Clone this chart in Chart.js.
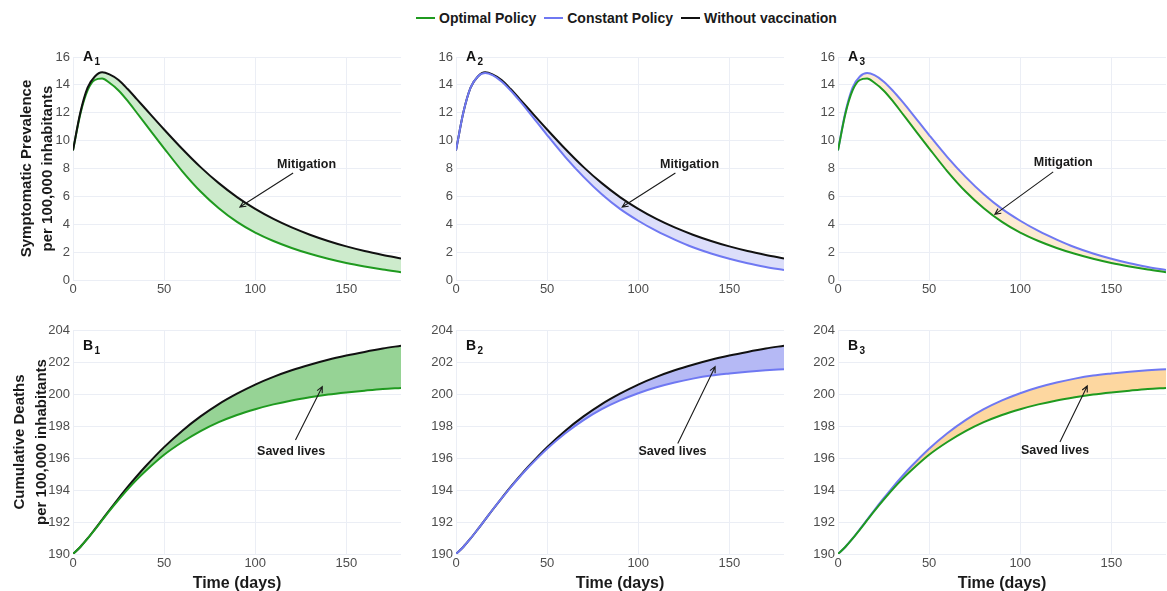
<!DOCTYPE html>
<html>
<head>
<meta charset="utf-8">
<script src="https://cdn.jsdelivr.net/npm/chart.js@4.4.1/dist/chart.umd.min.js"></script>
<style>
  html, body { margin: 0; padding: 0; background: #fff; overflow: hidden; width: 1167px; height: 591px; }
  canvas { position: absolute; }
  #legend { position: absolute; top: 8px; left: 416px; height: 20px; display: flex; align-items: center;
            font: bold 14px "Liberation Sans", Arial, sans-serif; color: #1a1a1a; white-space: nowrap; }
  #legend .sw { display: inline-block; width: 19px; height: 2px; margin-right: 4px; }
  #legend .item { display: flex; align-items: center; margin-right: 8px; }
</style>
</head>
<body>
<div id="legend">
  <span class="item"><span class="sw" style="background:#1f9a1f"></span>Optimal Policy</span>
  <span class="item"><span class="sw" style="background:#6f78f2"></span>Constant Policy</span>
  <span class="item"><span class="sw" style="background:#111"></span>Without vaccination</span>
</div>
<canvas id="a1" width="404" height="255" style="left:0;top:45px"></canvas>
<canvas id="a2" width="372" height="255" style="left:416px;top:45px"></canvas>
<canvas id="a3" width="369" height="255" style="left:798px;top:45px"></canvas>
<canvas id="b1" width="404" height="283" style="left:0;top:318px"></canvas>
<canvas id="b2" width="372" height="283" style="left:416px;top:318px"></canvas>
<canvas id="b3" width="369" height="283" style="left:798px;top:318px"></canvas>
<script>
// Simulation output sampled on these days
const days = [0, 4, 8, 12, 16, 20, 25, 30, 35, 40, 50, 60, 70, 80, 90, 100, 110, 120, 130, 140, 150, 160, 170, 180];

// Symptomatic prevalence per 100,000 inhabitants
const prevOptimal  = [9.3, 11.9, 13.6, 14.35, 14.45, 14.15, 13.6, 12.85, 12.0, 11.15, 9.45, 7.8, 6.35, 5.15, 4.17, 3.4, 2.8, 2.3, 1.88, 1.52, 1.22, 0.97, 0.75, 0.56];
const prevConstant = [9.3, 12.0, 13.8, 14.6, 14.85, 14.7, 14.25, 13.6, 12.85, 12.05, 10.4, 8.82, 7.4, 6.15, 5.1, 4.25, 3.52, 2.9, 2.35, 1.9, 1.52, 1.2, 0.94, 0.72];
const prevNoVax    = [9.3, 12.0, 13.8, 14.6, 14.9, 14.75, 14.35, 13.7, 12.98, 12.25, 10.8, 9.4, 8.1, 6.95, 5.95, 5.1, 4.38, 3.77, 3.25, 2.8, 2.41, 2.08, 1.8, 1.55];

// Cumulative deaths per 100,000 inhabitants
const deathsOptimal  = [190.0, 190.44, 190.96, 191.53, 192.11, 192.69, 193.38, 194.04, 194.65, 195.2, 196.2, 197.0, 197.68, 198.24, 198.69, 199.05, 199.35, 199.6, 199.8, 199.97, 200.1, 200.21, 200.31, 200.38];
const deathsConstant = [190.0, 190.44, 190.97, 191.55, 192.15, 192.75, 193.47, 194.17, 194.83, 195.45, 196.58, 197.55, 198.37, 199.05, 199.6, 200.05, 200.42, 200.72, 200.96, 201.15, 201.28, 201.39, 201.48, 201.55];
const deathsNoVax    = [190.0, 190.44, 190.97, 191.55, 192.15, 192.75, 193.48, 194.19, 194.86, 195.5, 196.68, 197.71, 198.6, 199.37, 200.02, 200.59, 201.07, 201.48, 201.83, 202.14, 202.4, 202.63, 202.84, 203.02];

// Tick values
const timeTicks  = [0, 50, 100, 150];
const prevTicks  = [0, 2, 4, 6, 8, 10, 12, 14, 16];
const deathTicks = [190, 192, 194, 196, 198, 200, 202, 204];

const FONT = '"Liberation Sans", Arial, Helvetica, sans-serif';
Chart.defaults.font.family = FONT;
Chart.defaults.color = '#4d4d4d';

const GREEN = '#1f9a1f', BLUE = '#6f78f2', BLACK = '#111111';
const GRID = '#ebeef5';

const series = (vals) => days.map((d, i) => ({ x: d, y: vals[i] }));

// Panel label, annotation text and arrow
const notes = {
  id: 'notes',
  afterDatasetsDraw(chart, args, o) {
    const { ctx, chartArea, scales: { x, y } } = chart;
    ctx.save();
    ctx.fillStyle = '#111';
    ctx.textBaseline = 'middle';
    ctx.textAlign = 'left';
    ctx.font = 'bold 14px ' + FONT;
    const lx = chartArea.left + 10, ly = chartArea.top + o.labelDy;
    ctx.fillText(o.letter, lx, ly);
    const w = ctx.measureText(o.letter).width;
    ctx.font = 'bold 10px ' + FONT;
    ctx.fillText(o.sub, lx + w + 1.5, ly + 5);

    ctx.font = 'bold 12.5px ' + FONT;
    ctx.textAlign = 'center';
    ctx.fillStyle = '#1a1a1a';
    ctx.fillText(o.text, x.getPixelForValue(o.textAt[0]), y.getPixelForValue(o.textAt[1]));

    const x0 = x.getPixelForValue(o.from[0]), y0 = y.getPixelForValue(o.from[1]);
    const x1 = x.getPixelForValue(o.to[0]), y1 = y.getPixelForValue(o.to[1]);
    ctx.strokeStyle = '#1a1a1a';
    ctx.lineWidth = 1.1;
    ctx.beginPath();
    ctx.moveTo(x0, y0);
    ctx.lineTo(x1, y1);
    const ang = Math.atan2(y1 - y0, x1 - x0), hl = 6.5, spread = 0.45;
    ctx.moveTo(x1 - hl * Math.cos(ang - spread), y1 - hl * Math.sin(ang - spread));
    ctx.lineTo(x1, y1);
    ctx.lineTo(x1 - hl * Math.cos(ang + spread), y1 - hl * Math.sin(ang + spread));
    ctx.stroke();
    ctx.restore();
  }
};

function panel(id, cfg) {
  const top = cfg.row === 'A';
  const ds = [
    { data: series(cfg.lower), borderColor: cfg.lowerColor, order: cfg.lowerOnTop ? 0 : 1, fill: false },
    { data: series(cfg.upper), borderColor: cfg.upperColor, order: cfg.lowerOnTop ? 1 : 0,
      fill: { target: 0 }, backgroundColor: cfg.fillColor }
  ];
  ds.forEach(d => Object.assign(d, { borderWidth: 2, pointRadius: 0, cubicInterpolationMode: 'monotone' }));

  const yTitle = cfg.yTitle ? {
    display: true, text: cfg.yTitle, color: '#1a1a1a',
    font: { size: 15, weight: 'bold', lineHeight: top ? 1.4 : 1.467 },
    padding: { top: top ? 16.5 : 9, bottom: 0 }
  } : { display: false };

  new Chart(document.getElementById(id), {
    type: 'line',
    data: { datasets: ds },
    options: {
      responsive: false,
      animation: false,
      devicePixelRatio: 1,
      layout: { padding: { top: 12, right: cfg.padRight, bottom: 0, left: 0 } },
      plugins: {
        legend: { display: false },
        tooltip: { enabled: false },
        filler: { drawTime: 'beforeDatasetsDraw' },
        notes: cfg.notes
      },
      scales: {
        x: {
          type: 'linear', min: 0, max: 180,
          afterBuildTicks: s => { s.ticks = timeTicks.map(v => ({ value: v })); },
          afterFit: s => { s.height = top ? 20 : 47; },
          grid: { color: GRID, lineWidth: 1, drawTicks: false },
          border: { display: false },
          ticks: { padding: 2, font: { size: 13 }, color: '#4d4d4d', maxRotation: 0 },
          title: top ? { display: false } : {
            display: true, text: 'Time (days)', color: '#1a1a1a',
            font: { size: 16, weight: 'bold', lineHeight: 1.2 }, padding: { top: 0, bottom: 7.4 }
          }
        },
        y: {
          type: 'linear', min: cfg.yTicks[0], max: cfg.yTicks[cfg.yTicks.length - 1],
          afterBuildTicks: s => { s.ticks = cfg.yTicks.map(v => ({ value: v })); },
          afterFit: s => { s.width = cfg.yWidth; },
          grid: { color: GRID, lineWidth: 1, drawTicks: false },
          border: { display: false },
          ticks: { padding: 3, font: { size: 13 }, color: '#4d4d4d' },
          title: yTitle
        }
      }
    },
    plugins: [notes]
  });
}

const prevTitle = ['Symptomatic Prevalence', 'per 100,000 inhabitants'];
const deathTitle = ['Cumulative Deaths', 'per 100,000 inhabitants'];

panel('a1', { row: 'A', lower: prevOptimal, upper: prevNoVax, lowerColor: GREEN, upperColor: BLACK,
  lowerOnTop: false, fillColor: '#cdebcc', yTicks: prevTicks, yWidth: 73, padRight: 3, yTitle: prevTitle,
  notes: { letter: 'A', sub: '1', labelDy: 0, text: 'Mitigation', textAt: [128.2, 8.31], from: [120.8, 7.68], to: [91.6, 5.24] } });
panel('a2', { row: 'A', lower: prevConstant, upper: prevNoVax, lowerColor: BLUE, upperColor: BLACK,
  lowerOnTop: true, fillColor: '#dcdefa', yTicks: prevTicks, yWidth: 40, padRight: 4,
  notes: { letter: 'A', sub: '2', labelDy: 0, text: 'Mitigation', textAt: [128.2, 8.31], from: [120.4, 7.68], to: [91.2, 5.24] } });
panel('a3', { row: 'A', lower: prevOptimal, upper: prevConstant, lowerColor: GREEN, upperColor: BLUE,
  lowerOnTop: true, fillColor: '#fdebd2', yTicks: prevTicks, yWidth: 40, padRight: 1,
  notes: { letter: 'A', sub: '3', labelDy: 0, text: 'Mitigation', textAt: [123.6, 8.42], from: [118.1, 7.76], to: [86.1, 4.71] } });
panel('b1', { row: 'B', lower: deathsOptimal, upper: deathsNoVax, lowerColor: GREEN, upperColor: BLACK,
  lowerOnTop: true, fillColor: '#96d395', yTicks: deathTicks, yWidth: 73, padRight: 3, yTitle: deathTitle,
  notes: { letter: 'B', sub: '1', labelDy: 16.5, text: 'Saved lives', textAt: [119.7, 196.4], from: [122.1, 197.12], to: [136.8, 200.46] } });
panel('b2', { row: 'B', lower: deathsConstant, upper: deathsNoVax, lowerColor: BLUE, upperColor: BLACK,
  lowerOnTop: true, fillColor: '#b5b9f5', yTicks: deathTicks, yWidth: 40, padRight: 4,
  notes: { letter: 'B', sub: '2', labelDy: 16.5, text: 'Saved lives', textAt: [118.8, 196.38], from: [121.7, 196.9], to: [142.2, 201.71] } });
panel('b3', { row: 'B', lower: deathsOptimal, upper: deathsConstant, lowerColor: GREEN, upperColor: BLUE,
  lowerOnTop: true, fillColor: '#fdd7a0', yTicks: deathTicks, yWidth: 40, padRight: 1,
  notes: { letter: 'B', sub: '3', labelDy: 16.5, text: 'Saved lives', textAt: [119.1, 196.44], from: [121.8, 197.0], to: [136.8, 200.5] } });
</script>
</body>
</html>
